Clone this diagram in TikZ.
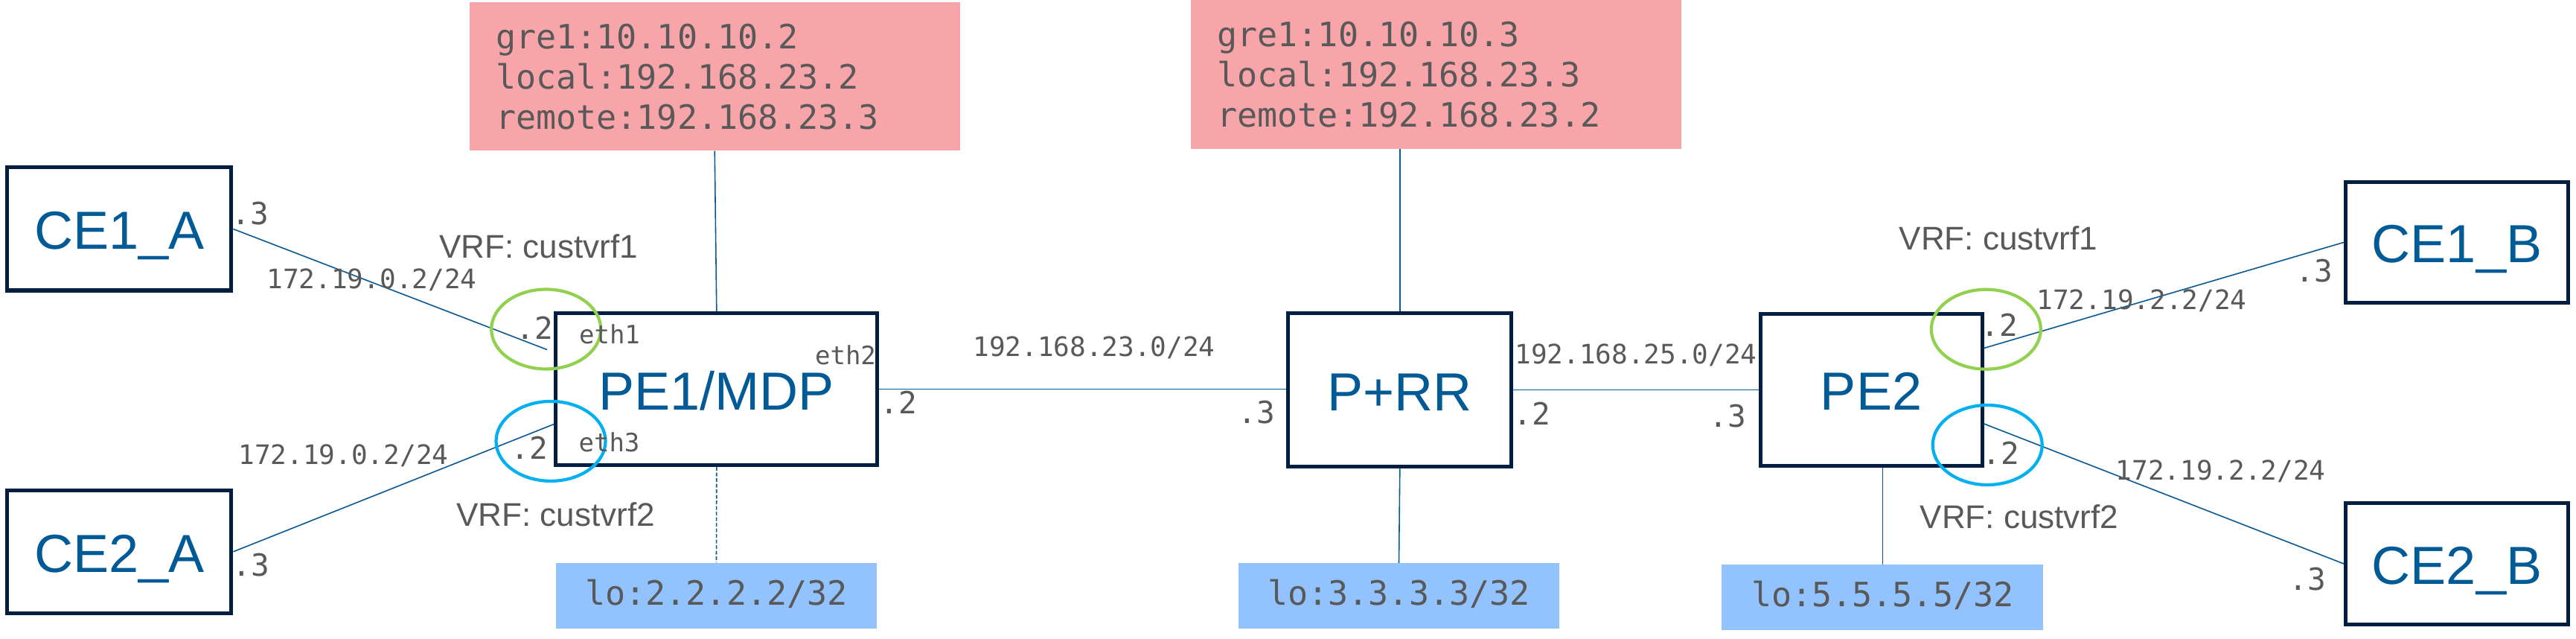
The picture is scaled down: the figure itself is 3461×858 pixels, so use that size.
\documentclass[tikz,border=0pt]{standalone}
\usepackage{fontspec}
\setmainfont{Liberation Sans}
\newfontfamily\monof{DejaVu Sans Mono}
\usetikzlibrary{shapes.geometric}
\definecolor{navy}{HTML}{001E42}
\definecolor{boxtxt}{HTML}{005A96}
\definecolor{linkc}{HTML}{0A5A94}
\definecolor{greyt}{HTML}{595959}
\definecolor{pinkf}{HTML}{F8A5AA}
\definecolor{lof}{HTML}{93C3FE}
\definecolor{vrfg}{HTML}{92D050}
\definecolor{vrfb}{HTML}{00B0F0}
\begin{document}
\begin{tikzpicture}[x=1pt,y=-1pt,
  dev/.style={draw=navy, line width=5pt, fill=white, inner sep=0pt, text=boxtxt,
    font=\fontsize{72}{80}\selectfont, text height=55pt, text depth=0pt},
  pinkbox/.style={fill=pinkf, minimum width=659pt, minimum height=199pt, inner xsep=35.5pt,
    inner ysep=0pt, text width=588pt, align=left, text=greyt, font=\monof\fontsize{45}{54}\selectfont},
  lobox/.style={fill=lof, minimum width=431pt, minimum height=88pt, inner sep=0pt, text=greyt,
    font=\monof\fontsize{45}{54}\selectfont, text height=25pt, text depth=0pt},
  link/.style={draw=linkc, line width=1.6pt},
  vrfring/.style={ellipse, line width=4.2pt, minimum width=147pt, minimum height=107pt, inner sep=0pt},
  iplbl/.style={text=greyt, font=\monof\fontsize{36}{40}\selectfont, inner sep=0pt, anchor=base},
  dotlbl/.style={text=greyt, font=\monof\fontsize{41}{45}\selectfont, inner sep=0pt, anchor=base},
  ethlbl/.style={text=greyt, font=\monof\fontsize{34}{38}\selectfont, inner sep=0pt, anchor=base},
  vrflbl/.style={text=greyt, font=\fontsize{44}{50}\selectfont, inner sep=0pt, anchor=base},
]
\useasboundingbox[fill=white] (0,0) rectangle (3461,858);

% devices
\node[dev, minimum width=301pt, minimum height=165pt] (CE1A) at (160.4,307.5) {CE1\_A};
\node[dev, minimum width=301pt, minimum height=165pt] (CE2A) at (160.4,740.8) {CE2\_A};
\node[dev, minimum width=432pt, minimum height=204pt] (PE1) at (962.8,522.5) {PE1/MDP};
\node[dev, minimum width=300pt, minimum height=206pt] (PRR) at (1880.8,523.5) {P+RR};
\node[dev, minimum width=298pt, minimum height=204pt] (PE2) at (2514,523) {PE2};
\node[dev, minimum width=299pt, minimum height=162pt] (CE1B) at (3301,325.4) {CE1\_B};
\node[dev, minimum width=299pt, minimum height=163pt] (CE2B) at (3301,757) {CE2\_B};

% tunnel boxes
\node[pinkbox] (gre1) at (960.2,103) {gre1:10.10.10.2\\local:192.168.23.2\\remote:192.168.23.3};
\node[pinkbox, minimum height=200pt] (gre2) at (1929.5,100) {gre1:10.10.10.3\\local:192.168.23.3\\remote:192.168.23.2};

% loopback boxes
\node[lobox] (lo2) at (962.5,799.5) {lo:2.2.2.2/32};
\node[lobox] (lo3) at (1879.5,800) {lo:3.3.3.3/32};
\node[lobox, minimum width=432pt] (lo5) at (2529.3,802) {lo:5.5.5.5/32};

% connectors
\draw[link] (gre1.south) -- (PE1.north);
\draw[link] (PRR.north |- gre2.south) -- (PRR.north);
\draw[link] (PE1.east) -- (PE1.east -| PRR.west);
\draw[link] (PRR.east) -- (PRR.east -| PE2.west);
\draw[link, dash pattern=on 5pt off 2.5pt] (PE1.south) -- (lo2.north);
\draw[link] (PRR.south) -- (lo3.north);
\draw[link] (lo5.north) -- (lo5.north |- PE2.south);
\coordinate (a1) at (735,469.5);
\draw[link] (CE1A.east) -- (a1);
\draw[link] (CE2A.east) -- ([yshift=-47pt]PE1.west);
\draw[link] ([yshift=55.5pt]PE2.east) -- (CE1B.west);
\draw[link] ([yshift=-46pt]PE2.east) -- (CE2B.west);

% VRF rings
\node[vrfring, draw=vrfg] (r1) at (733.7,442) {};
\node[vrfring, draw=vrfb] (r2) at (740,592.4) {};
\node[vrfring, draw=vrfg] (r3) at (2668.3,442.2) {};
\node[vrfring, draw=vrfb] (r4) at (2670.2,597.5) {};

% subnet labels
\node[iplbl] (ip1) at (499.5,388) {172.19.0.2/24};
\node[iplbl] (ip2) at (461.5,623) {172.19.0.2/24};
\node[iplbl] (ip3) at (1470,478) {192.168.23.0/24};
\node[iplbl] (ip4) at (2198,488) {192.168.25.0/24};
\node[iplbl] (ip5) at (2877.5,415.5) {172.19.2.2/24};
\node[iplbl] (ip6) at (2983.5,644) {172.19.2.2/24};

% host parts
\node[dotlbl] (d1) at (336,301.7) {.3};
\node[dotlbl] (d2) at (337,773) {.3};
\node[dotlbl] (d3) at (718,455) {.2};
\node[dotlbl] (d4) at (711,616.5) {.2};
\node[dotlbl] (d5) at (1207,555) {.2};
\node[dotlbl] (d6) at (1688,568) {.3};
\node[dotlbl] (d7) at (2058,570) {.2};
\node[dotlbl] (d8) at (2321,573.5) {.3};
\node[dotlbl] (d9) at (2686.5,451.5) {.2};
\node[dotlbl] (d10) at (2688.5,623) {.2};
\node[dotlbl] (d11) at (3109,379) {.3};
\node[dotlbl] (d12) at (3100,792) {.3};

% interfaces
\node[ethlbl] (e1) at (819,461.7) {eth1};
\node[ethlbl] (e2) at (1136,489) {eth2};
\node[ethlbl] (e3) at (818.5,606) {eth3};

% VRF names
\node[vrflbl] (v1) at (723.5,347) {VRF: custvrf1};
\node[vrflbl] (v2) at (746.5,706) {VRF: custvrf2};
\node[vrflbl] (v3) at (2685,335.6) {VRF: custvrf1};
\node[vrflbl] (v4) at (2713,709.6) {VRF: custvrf2};
\end{tikzpicture}
\end{document}
